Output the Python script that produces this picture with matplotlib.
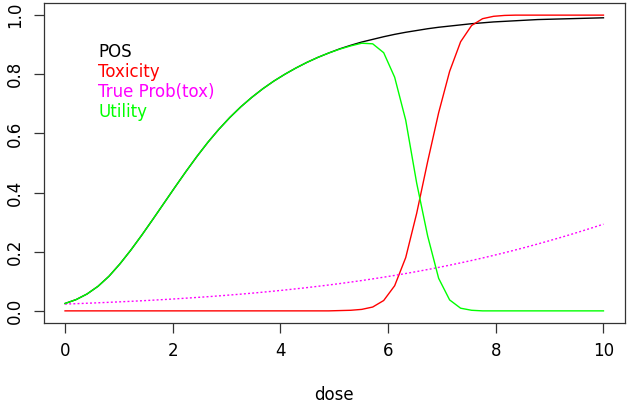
import matplotlib
matplotlib.use("Agg")
import matplotlib.pyplot as plt

# Dose grid (50 points from 0 to 10)
dose = [0.000, 0.204, 0.408, 0.612, 0.816, 1.020, 1.224, 1.429, 1.633, 1.837,
        2.041, 2.245, 2.449, 2.653, 2.857, 3.061, 3.265, 3.469, 3.673, 3.878,
        4.082, 4.286, 4.490, 4.694, 4.898, 5.102, 5.306, 5.510, 5.714, 5.918,
        6.122, 6.327, 6.531, 6.735, 6.939, 7.143, 7.347, 7.551, 7.755, 7.959,
        8.163, 8.367, 8.571, 8.776, 8.980, 9.184, 9.388, 9.592, 9.796, 10.000]

pos = [0.025, 0.038, 0.057, 0.083, 0.117, 0.159, 0.206, 0.257, 0.310, 0.364,
       0.418, 0.471, 0.522, 0.570, 0.614, 0.654, 0.690, 0.722, 0.751, 0.777,
       0.800, 0.821, 0.840, 0.857, 0.872, 0.886, 0.898, 0.909, 0.918, 0.927,
       0.935, 0.942, 0.948, 0.954, 0.959, 0.963, 0.967, 0.971, 0.974, 0.977,
       0.979, 0.981, 0.983, 0.985, 0.986, 0.987, 0.988, 0.989, 0.990, 0.991]

toxicity = [0.0] * 25 + [0.001, 0.002, 0.005, 0.013, 0.035,
                          0.085, 0.180, 0.330, 0.505, 0.670,
                          0.810, 0.910, 0.965, 0.988, 0.996,
                          0.999, 1.0, 1.0, 1.0, 1.0,
                          1.0, 1.0, 1.0, 1.0, 1.0]

true_prob_tox = [0.0230, 0.0243, 0.0258, 0.0273, 0.0289, 0.0306, 0.0323, 0.0342, 0.0362, 0.0383,
                 0.0405, 0.0429, 0.0454, 0.0479, 0.0507, 0.0536, 0.0566, 0.0598, 0.0632, 0.0668,
                 0.0705, 0.0745, 0.0786, 0.0830, 0.0875, 0.0923, 0.0973, 0.1026, 0.1081, 0.1139,
                 0.1199, 0.1263, 0.1329, 0.1398, 0.1470, 0.1545, 0.1623, 0.1704, 0.1788, 0.1876,
                 0.1967, 0.2061, 0.2158, 0.2260, 0.2364, 0.2471, 0.2581, 0.2695, 0.2812, 0.2932]

utility = [0.025, 0.038, 0.057, 0.083, 0.117, 0.159, 0.206, 0.257, 0.310, 0.364,
           0.418, 0.471, 0.522, 0.570, 0.614, 0.654, 0.690, 0.722, 0.751, 0.777,
           0.800, 0.821, 0.840, 0.857, 0.872, 0.885, 0.896, 0.905, 0.903, 0.873,
           0.790, 0.645, 0.432, 0.253, 0.110, 0.037, 0.009, 0.002, 0.0, 0.0,
           0.0, 0.0, 0.0, 0.0, 0.0, 0.0, 0.0, 0.0, 0.0, 0.0]

legend_labels = ["POS", "Toxicity", "True Prob(tox)", "Utility"]
legend_colors = ["black", "#FF0000", "#FF00FF", "#00FF00"]
x_ticks = [0, 2, 4, 6, 8, 10]
y_ticks = [0.0, 0.2, 0.4, 0.6, 0.8, 1.0]

W, H = 627, 403
fig = plt.figure(figsize=(W / 100, H / 100), dpi=100)
plt.rcParams['font.family'] = ['DejaVu Sans']
FS = 12

left, right, top, bottom = 43.5, 625.0, 3.3, 322.7
ax = fig.add_axes([left / W, 1 - bottom / H, (right - left) / W, (bottom - top) / H])

ax.plot(dose, pos, color="black", lw=1.0)
ax.plot(dose, toxicity, color="#FF0000", lw=1.0)
ax.plot(dose, true_prob_tox, color="#FF00FF", lw=1.0, dashes=(1.4, 1.6))
ax.plot(dose, utility, color="#00FF00", lw=1.0)

ax.set_xlim(-0.4, 10.4)
ax.set_ylim(-0.04, 1.04)
ax.set_xticks(x_ticks)
ax.set_xticklabels([str(t) for t in x_ticks])
ax.set_yticks(y_ticks)
ax.set_yticklabels([f"{t:.1f}" for t in y_ticks])
ax.tick_params(direction="out", length=7.0, width=0.9, labelsize=FS, pad=7.0, color="#333333")
for lab in ax.get_yticklabels():
    lab.set_rotation(90)
    lab.set_va("center")
for sp in ax.spines.values():
    sp.set_linewidth(0.9)
    sp.set_color("#333333")

ax.set_xlabel("dose", fontsize=FS, labelpad=18.5)

baselines = [56.7, 76.7, 96.7, 116.7]
for lab, col, b in zip(legend_labels, legend_colors, baselines):
    fig.text(98.0 / W, 1 - b / H, lab, color=col, fontsize=FS, va="baseline", ha="left")

fig.savefig("out.png", dpi=100)
